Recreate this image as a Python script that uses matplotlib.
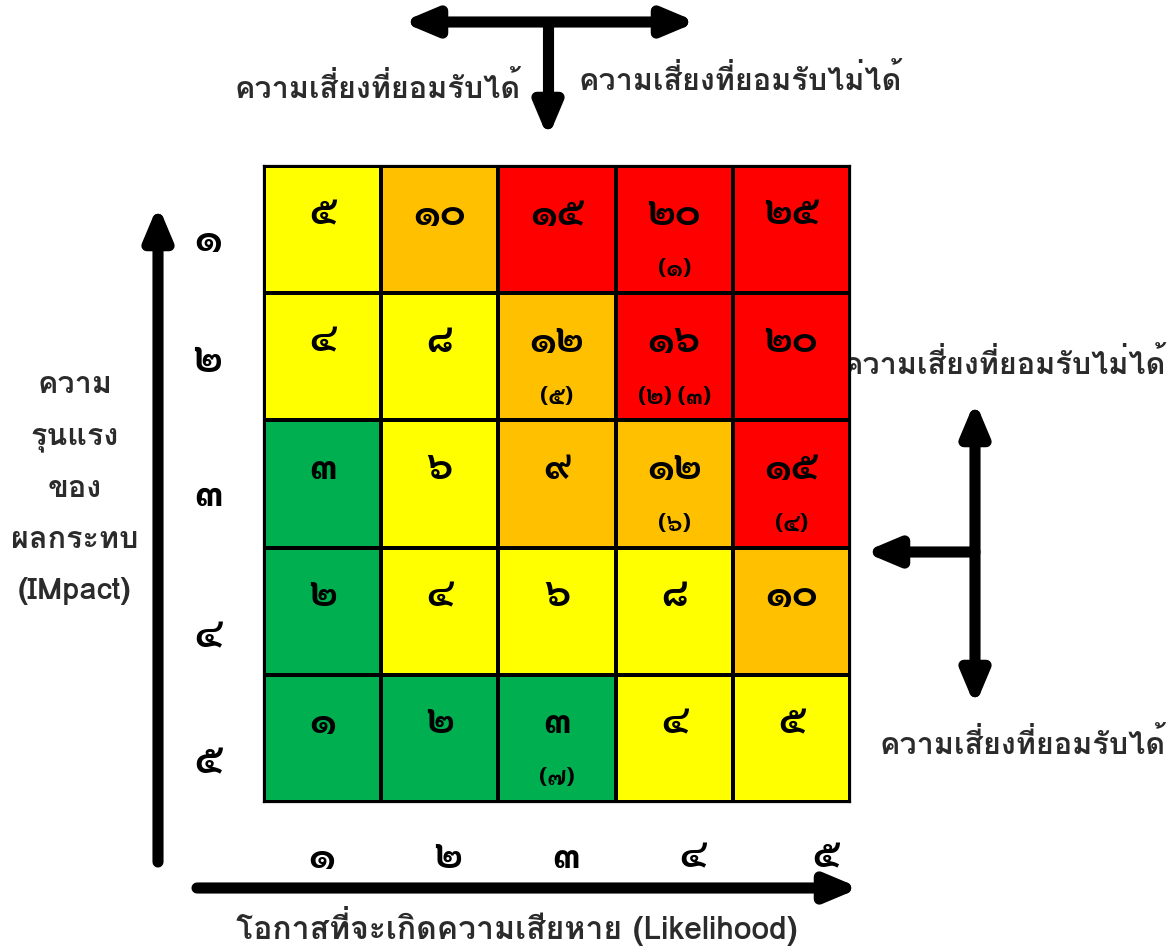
import matplotlib
matplotlib.use("Agg")
import matplotlib.pyplot as plt
from matplotlib.colors import ListedColormap
import numpy as np

plt.rcParams['font.family'] = ['Loma', 'Noto Sans', 'DejaVu Sans']
plt.rcParams['font.weight'] = 'bold'
DIGIT_FONT = ['Sarabun', 'Loma', 'DejaVu Sans']

# impact 1 (top) .. 5 (bottom), likelihood 1 .. 5
impact_labels = [1, 2, 3, 4, 5]
likelihood_labels = [1, 2, 3, 4, 5]
scores = [
    [5, 10, 15, 20, 25],
    [4, 8, 12, 16, 20],
    [3, 6, 9, 12, 15],
    [2, 4, 6, 8, 10],
    [1, 2, 3, 4, 5],
]
# 0 green, 1 yellow, 2 orange, 3 red
levels = [
    [1, 2, 3, 3, 3],
    [1, 1, 2, 3, 3],
    [0, 1, 2, 2, 3],
    [0, 1, 1, 1, 2],
    [0, 0, 0, 1, 1],
]
# risk items placed in cells: (row, col, text)
risk_items = [
    (0, 3, "(1)"),
    (1, 2, "(5)"),
    (1, 3, "(2) (3)"),
    (2, 3, "(6)"),
    (2, 4, "(4)"),
    (4, 2, "(7)"),
]
level_colors = ['#00B050', '#FFFF00', '#FFC000', '#FF0000']

TH = str.maketrans("0123456789", "๐๑๒๓๔๕๖๗๘๙")
def th(v):
    return str(v).translate(TH)

label_color = '#2b2b2b'

fig = plt.figure(figsize=(11.72, 9.49), dpi=100)

# overlay in pixel coordinates for arrows and free labels
ov = fig.add_axes([0, 0, 1, 1])
ov.set_xlim(0, 1172)
ov.set_ylim(949, 0)
ov.axis('off')

ax = fig.add_axes([264 / 1172, 147 / 949, 586 / 1172, 636 / 949])
lv = np.array(levels)
ax.pcolormesh(lv, cmap=ListedColormap(level_colors), vmin=-0.5, vmax=3.5,
              edgecolors='black', linewidth=1.6)
ax.set_xlim(0, 5)
ax.set_ylim(5, 0)
for spine in ax.spines.values():
    spine.set_linewidth(1.6)

for r, row in enumerate(scores):
    for c, v in enumerate(row):
        ax.text(c + 0.5, r + 0.38, th(v), ha='center', va='center',
                fontsize=28, fontweight='bold', color='black', family=DIGIT_FONT)
for r, c, s in risk_items:
    ax.text(c + 0.5, r + 0.82, th(s), ha='center', va='center',
            fontsize=17, fontweight='bold', color='black', family=DIGIT_FONT)

ax.set_xticks([0.49, 1.57, 2.58, 3.66, 4.79])
ax.set_xticklabels([th(v) for v in likelihood_labels], fontsize=28,
                   fontweight='bold', family=DIGIT_FONT)
ax.set_yticks([0.55, 1.50, 2.55, 3.66, 4.65])
ax.set_yticklabels([th(v) for v in impact_labels], fontsize=29,
                   fontweight='bold', family=DIGIT_FONT)
ax.tick_params(length=0)
ax.tick_params(axis='y', pad=30)
ax.tick_params(axis='x', pad=26)

def arrow(x0, y0, x1, y1, both=False):
    style = '<|-|>' if both else '-|>'
    ov.annotate('', xy=(x1, y1), xytext=(x0, y0),
                arrowprops=dict(arrowstyle=style + ',head_length=1.9,head_width=0.8',
                                lw=8, color='black', shrinkA=0, shrinkB=0))

# top arrows
arrow(402, 22, 697, 22, both=True)
ov.plot([548, 548], [22, 100], color='black', lw=8, solid_capstyle='butt')
arrow(548, 95, 548, 138)
# left and bottom axis arrows
arrow(158, 862, 158, 205)
arrow(197, 888, 860, 888)
# right arrows
arrow(975, 401, 975, 706, both=True)
arrow(975, 552, 864, 552)

tkw = dict(fontsize=22, fontweight='bold', color=label_color)
ov.text(378, 88, 'ความเสี่ยงที่ยอมรับได้', ha='center', va='center', **tkw)
ov.text(740, 80, 'ความเสี่ยงที่ยอมรับไม่ได้', ha='center', va='center', **tkw)
ov.text(1166, 364, 'ความเสี่ยงที่ยอมรับไม่ได้', ha='right', va='center', **tkw)
ov.text(1166, 744, 'ความเสี่ยงที่ยอมรับได้', ha='right', va='center', **tkw)
ov.text(75, 488, 'ความ\nรุนแรง\nของ\nผลกระทบ\n(IMpact)', ha='center', va='center',
        linespacing=2.05, **tkw)
ov.text(517, 926, 'โอกาสที่จะเกิดความเสียหาย (Likelihood)', ha='center', va='center',
        fontsize=23, fontweight='bold', color=label_color)

fig.savefig("out.png", dpi=100)
